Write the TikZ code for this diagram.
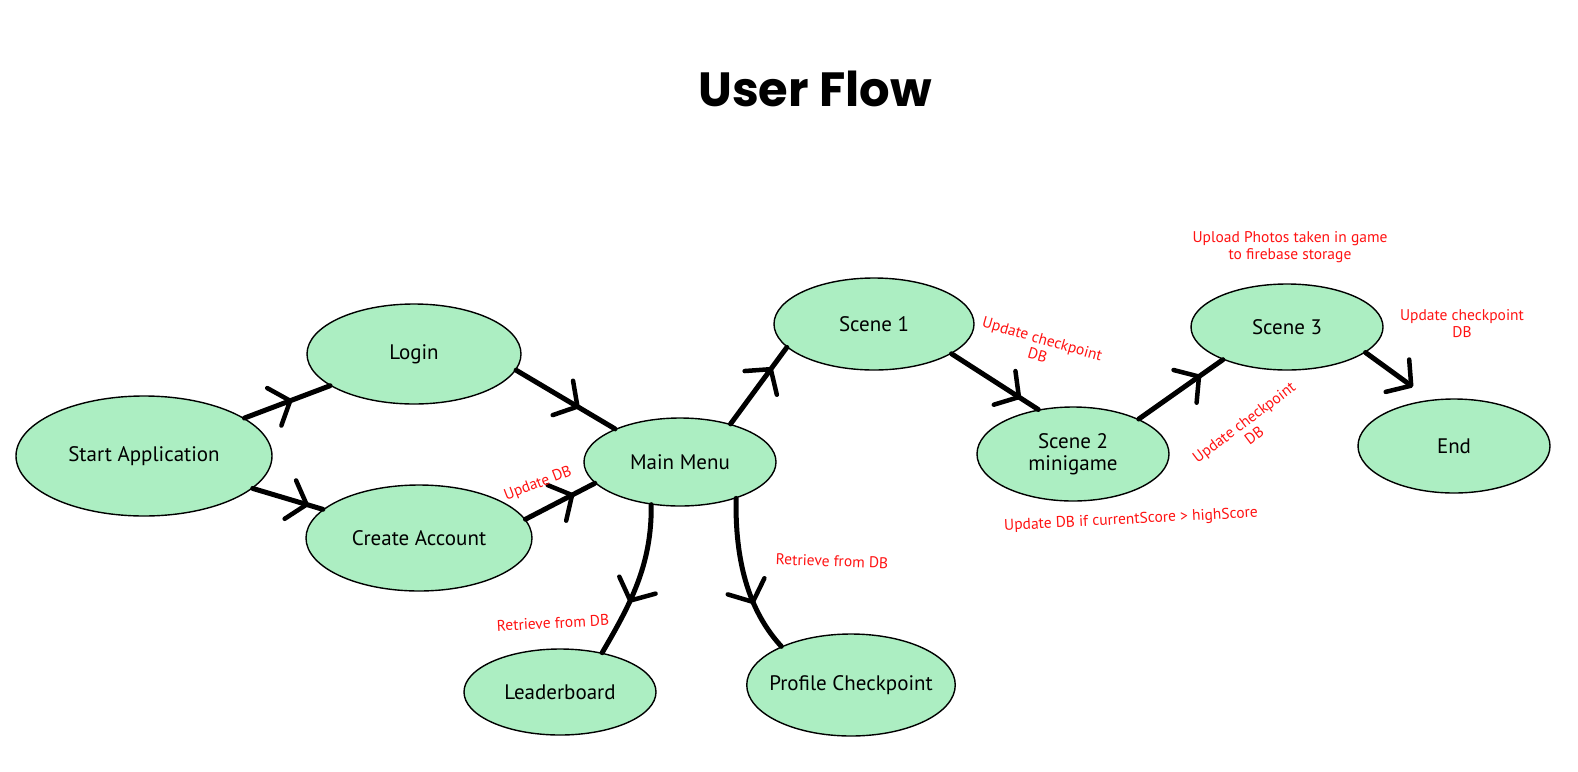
\documentclass[tikz,border=0pt]{standalone}
\usepackage{fontspec}
\setmainfont{PT Sans}
\newfontfamily\titlefont{Poppins}
\usepackage{tikz}
\usetikzlibrary{arrows.meta,shapes.geometric,decorations.markings}
\definecolor{flowGreen}{RGB}{172,238,194}
\definecolor{flowRed}{RGB}{255,18,18}
\tikzset{
  stage/.style={ellipse,draw=black,line width=1.4pt,fill=flowGreen,inner sep=0pt,
    font=\fontsize{21}{24}\selectfont,align=center},
  flow/.style={line width=5pt,line cap=round},
  midarrow/.style={postaction={decorate},decoration={markings,
    mark=at position #1 with {\arrow{Straight Barb[length=17pt,width=40pt,line width=4.5pt,round]}}}},
  note/.style={text=flowRed,font=\fontsize{15.5}{17}\selectfont,align=center,inner sep=1pt}
}

\begin{document}
\begin{tikzpicture}[x=1pt,y=1pt]
\useasboundingbox (0,0) rectangle (1578,-771);

\node[font=\titlefont\bfseries\fontsize{48}{50}\selectfont] (title) at (815,-89) {User Flow};

% login part
\node[stage,minimum width=256pt,minimum height=120pt] (start) at (144,-456) {Start Application};
\node[stage,minimum width=214pt,minimum height=100pt] (login) at (414,-354) {Login};
\node[stage,minimum width=226pt,minimum height=106pt] (create) at (419,-538) {Create Account};
\node[stage,minimum width=192pt,minimum height=88pt] (main) at (680,-462) {Main Menu};
\node[stage,minimum width=192pt,minimum height=86pt] (leader) at (560,-692) {Leaderboard};
\node[stage,minimum width=200pt,minimum height=102pt,inner xsep=-8pt] (profile) at (851,-685) {Profile Checkpoint};

% game scenes
\node[stage,minimum width=200pt,minimum height=92pt] (scene1) at (874,-324) {Scene 1};
\node[stage,minimum width=192pt,minimum height=94pt] (scene2) at (1073,-454) {Scene 2\\[-2pt]minigame};
\node[stage,minimum width=192pt,minimum height=86pt] (scene3) at (1287,-327) {Scene 3};
\node[stage,minimum width=192pt,minimum height=94pt] (end) at (1454,-446) {End};
\coordinate (endtip) at (1413,-387);

\draw[flow,midarrow=0.56] (start) -- (login);
\draw[flow,midarrow=0.8] (start) -- (create);
\draw[flow,midarrow=0.64] (login.-9) -- (main.153);
\draw[flow,midarrow=0.7] (create.10) -- (main.194);
\draw[flow,midarrow=0.74] (main.37) -- (scene1.195);
\draw[flow,midarrow=0.64] (main.-124) .. controls (652,-565) and (630,-605) .. (leader.43);
\draw[flow,midarrow=0.68] (main.-33) .. controls (735,-560) and (748,-610) .. (profile.151);
\draw[flow,midarrow=0.8] (scene1.-21) -- (scene2.128);
\draw[flow,midarrow=0.74] (scene2.28) -- (scene3.207);
\draw[flow,-{Straight Barb[length=17pt,width=40pt,line width=4.5pt,round]}] (scene3.-18) -- (endtip);

% database notes
\node[note,rotate=21] (n1) at (538,-484) {Update DB};
\node[note,rotate=3] (n2) at (553,-623) {Retrieve from DB};
\node[note,rotate=-2] (n3) at (832,-561) {Retrieve from DB};
\node[note,rotate=-16] (n4) at (1040,-347) {Update checkpoint\\DB};
\node[note,rotate=37] (n5) at (1249,-429) {Update checkpoint\\DB};
\node[note] (n6) at (1462,-324) {Update checkpoint\\DB};
\node[note] (n7) at (1290,-247) {Upload Photos taken in game\\to firebase storage};
\node[note,rotate=3] (n8) at (1131,-520) {Update DB if currentScore > highScore};
\end{tikzpicture}
\end{document}
